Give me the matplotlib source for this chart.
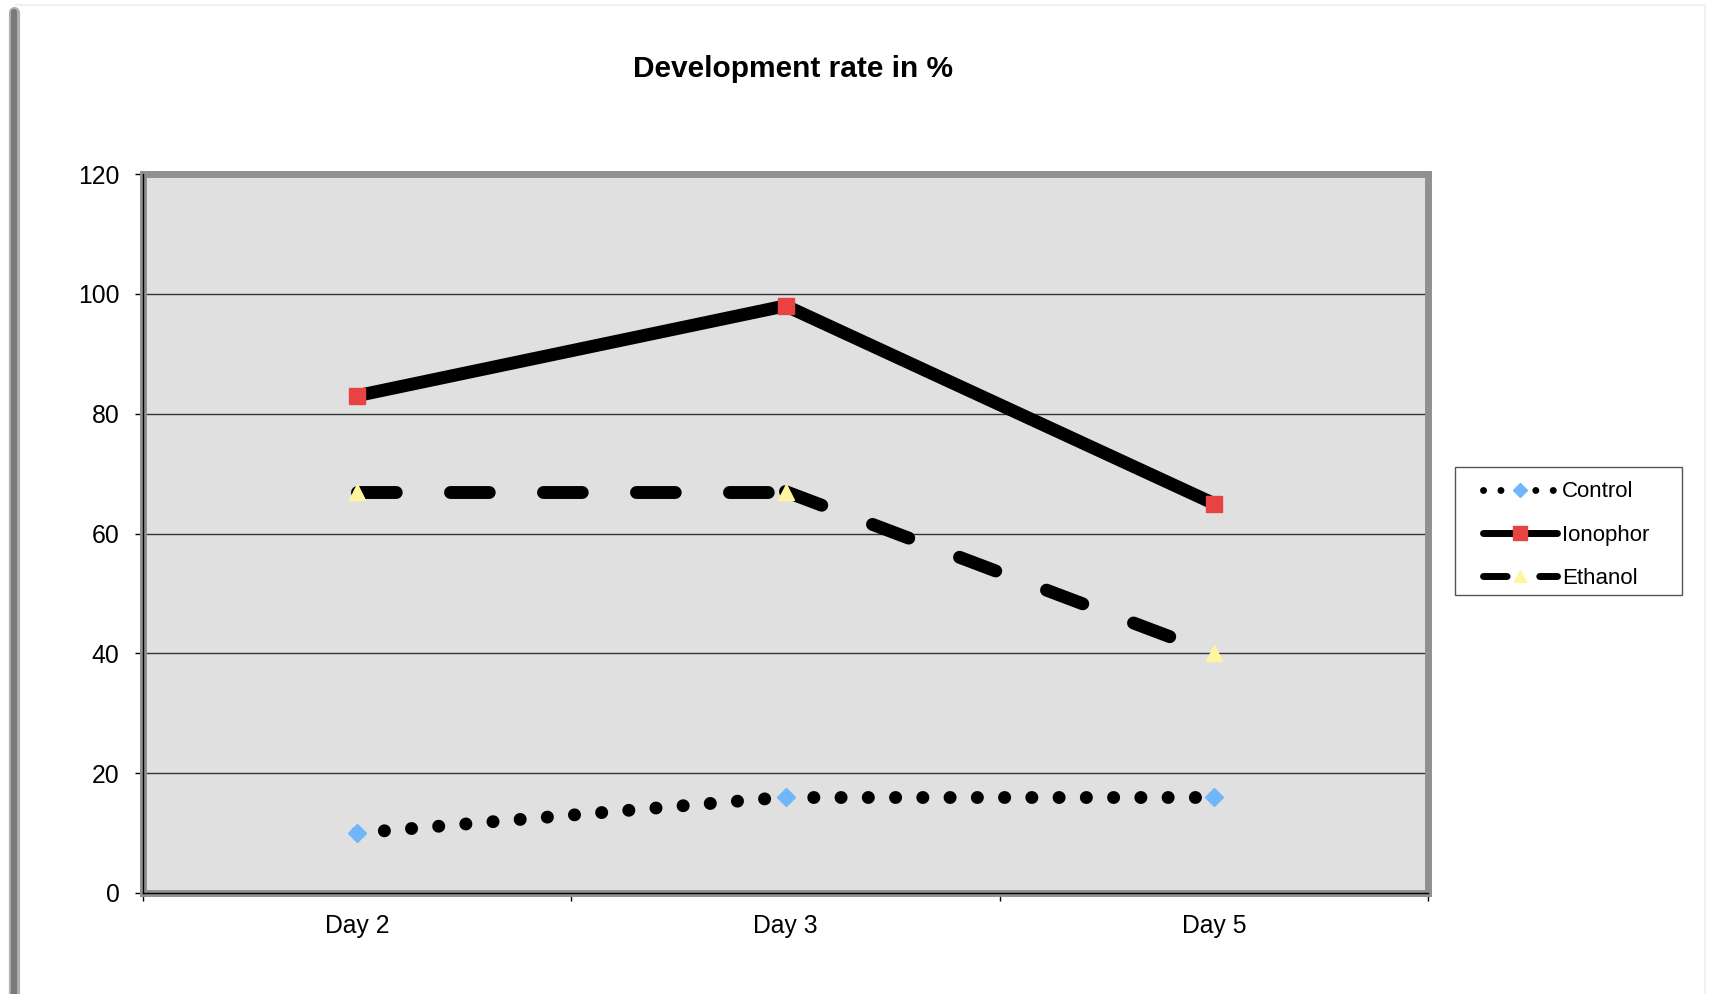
import matplotlib
matplotlib.use("Agg")
import matplotlib.pyplot as plt
from matplotlib.lines import Line2D
from matplotlib.patches import Rectangle

# data
days = ["Day 2", "Day 3", "Day 5"]
control = [10, 16, 16]
ionophor = [83, 98, 65]
ethanol = [67, 67, 40]
series_names = ["Control", "Ionophor", "Ethanol"]

RED = "#e84343"
BLUE = "#6fb6fb"
YELLOW = "#fff5a0"

W, H = 1710, 994
plt.rcParams['font.family'] = ['Liberation Sans', 'DejaVu Sans']
fig = plt.figure(figsize=(W / 100, H / 100), dpi=100)


def fx(px):
    return px / W


def fy(py):
    return 1 - py / H


# page edge shadow
fig.add_artist(Line2D([fx(13.5), fx(13.5)], [fy(12), 0], lw=8, color="#b0b0b0",
                      transform=fig.transFigure, solid_capstyle="round"))
fig.add_artist(Line2D([fx(13.5), fx(13.5)], [fy(12), 0], lw=4.5, color="#7a7a7a",
                      transform=fig.transFigure, solid_capstyle="round"))
fig.add_artist(Line2D([fx(16), fx(1704)], [fy(5), fy(5)], lw=1.5, color="#f1f1f1",
                      transform=fig.transFigure))
fig.add_artist(Line2D([fx(1705), fx(1705)], [fy(5), 0], lw=1.5, color="#f1f1f1",
                      transform=fig.transFigure))

ax = fig.add_axes([fx(143), fy(893), fx(1428) - fx(143), fy(174) - fy(893)])
ax.set_facecolor("#e0e0e0")
x = list(range(len(days)))


def patterned(xs, ys, dashes):
    # dash pattern starts over at every data point
    for i in range(len(xs) - 1):
        ax.plot(xs[i:i + 2], ys[i:i + 2], color="black", lw=9.3, dashes=dashes,
                dash_capstyle="round", zorder=3)


patterned(x, control, (0.01, 2.1))
ax.plot(x, control, ls="none", marker="D", ms=9.2, mfc=BLUE, mec=BLUE, zorder=4)

ax.plot(x, ionophor, color="black", lw=9.3, solid_capstyle="butt",
        solid_joinstyle="round", marker="s", ms=12, mfc=RED, mec=RED, zorder=3)

patterned(x, ethanol, (3.0, 4.2))
ax.plot(x, ethanol, ls="none", marker="^", ms=12, mfc=YELLOW, mec=YELLOW, zorder=4)

ax.set_xlim(-0.5, 2.5)
ax.set_ylim(0, 120)
ax.set_yticks(range(0, 121, 20))
ax.set_axisbelow(True)
ax.yaxis.grid(True, color="#333333", lw=1)

ax.set_xticks(x)
ax.set_xticklabels(days)
ax.set_xticks([-0.5, 0.5, 1.5, 2.5], minor=True)
ax.tick_params(axis="x", which="major", length=0, pad=15, labelsize=17.8)
ax.tick_params(axis="x", which="minor", direction="out", length=6, width=1,
               color="black")
ax.tick_params(axis="y", direction="out", length=6, width=1, color="black",
               pad=11, labelsize=17.8)

for sp in ax.spines.values():
    sp.set_color("#909090")
    sp.set_linewidth(5)
ax.plot([0, 0], [0, 1], transform=ax.transAxes, color="black", lw=1,
        clip_on=False, zorder=5)
ax.plot([0, 1], [0, 0], transform=ax.transAxes, color="black", lw=1,
        clip_on=False, zorder=5)

fig.text(fx(793), fy(69), "Development rate in %", ha="center", va="center",
         fontsize=21.5, fontweight="bold")

# legend: plain box with smaller line samples
fig.add_artist(Rectangle((fx(1455), fy(595)), fx(1682) - fx(1455), fy(467) - fy(595),
                         transform=fig.transFigure, facecolor="white",
                         edgecolor="#555555", lw=1))
handles = [
    Line2D([], [], color="black", lw=5, dashes=(0.01, 2.5), dash_capstyle="round",
           marker="D", ms=7, mfc=BLUE, mec=BLUE),
    Line2D([], [], color="black", lw=5, solid_capstyle="round",
           marker="s", ms=9.5, mfc=RED, mec=RED),
    Line2D([], [], color="black", lw=5, dashes=(3.4, 4.7), dash_capstyle="round",
           marker="^", ms=9, mfc=YELLOW, mec=YELLOW),
]
fig.legend(handles, series_names, loc="center left",
           bbox_to_anchor=(fx(1483), fy(535)), frameon=False, fontsize=16,
           borderpad=0, borderaxespad=0, handlelength=3.33, handletextpad=0.22,
           labelspacing=1.0, numpoints=1)

fig.savefig("out.png", dpi=100, facecolor="white")
